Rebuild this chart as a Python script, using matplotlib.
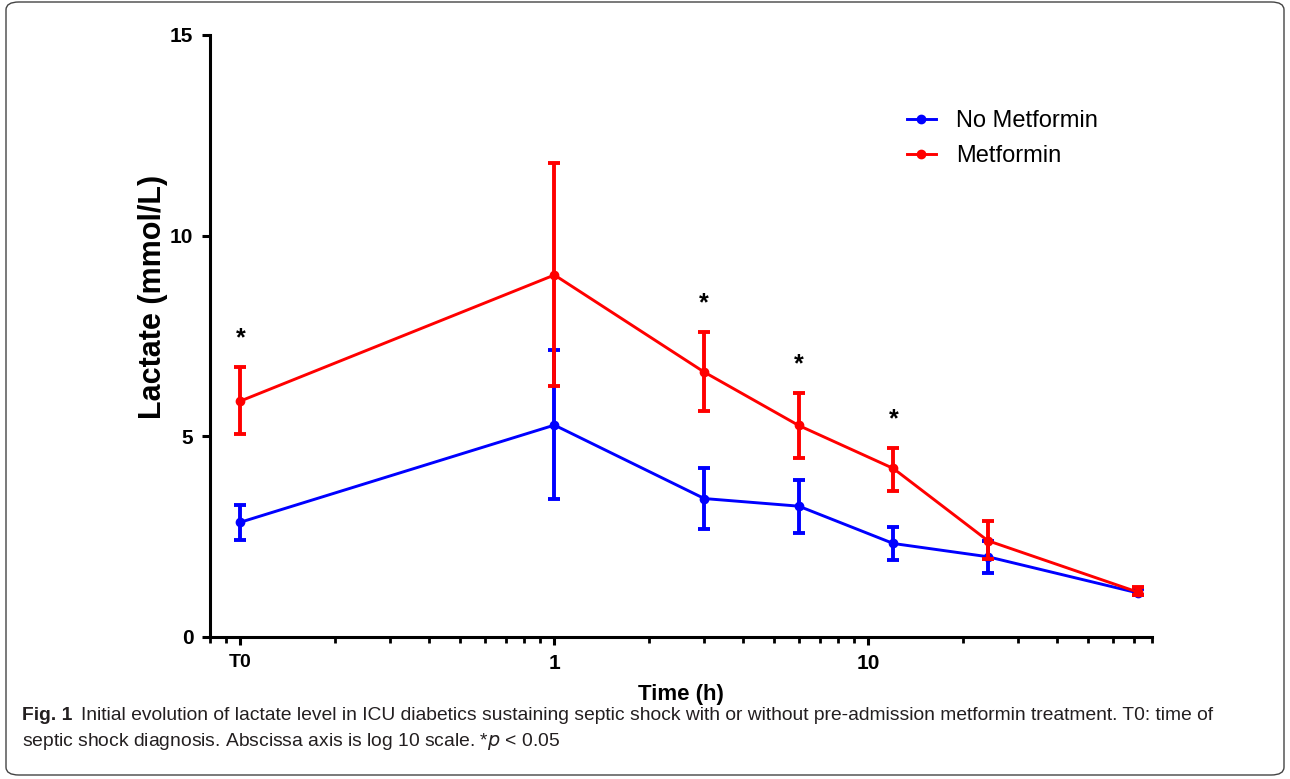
import matplotlib.pyplot as plt
from matplotlib.patches import FancyBboxPatch
from matplotlib.lines import Line2D
from matplotlib.ticker import FixedLocator, LogLocator, NullFormatter

# Time points (h); T0 drawn at 0.1 on the log axis
time = [0.1, 1, 3, 6, 12, 24, 72]
tick_pos = [0.1, 1, 10]
tick_lab = ['T0', '1', '10']

# No Metformin: mean, upper, lower
no_met = [2.86, 5.28, 3.45, 3.26, 2.33, 2.0, 1.1]
no_met_hi = [3.3, 7.15, 4.2, 3.92, 2.75, 2.4, 1.2]
no_met_lo = [2.42, 3.45, 2.7, 2.6, 1.92, 1.6, 1.05]

# Metformin: mean, upper, lower
met = [5.88, 9.02, 6.6, 5.27, 4.2, 2.4, 1.12]
met_hi = [6.72, 11.8, 7.6, 6.08, 4.72, 2.9, 1.25]
met_lo = [5.05, 6.25, 5.62, 4.45, 3.65, 1.95, 1.05]

# points marked as significant
star_idx = [0, 2, 3, 4]

BLUE = '#0000ff'
RED = '#ff0000'
FONT = 'Liberation Sans'

fig = plt.figure(figsize=(12.9, 7.79), dpi=100)
ax = fig.add_axes([210 / 1290, 1 - 637 / 779, (1152 - 210) / 1290, (637 - 35) / 779])

def err(m, hi, lo):
    return [[a - b for a, b in zip(m, lo)], [b - a for a, b in zip(m, hi)]]

ax.errorbar(time, no_met, yerr=err(no_met, no_met_hi, no_met_lo), color=BLUE,
            lw=2.1, marker='o', ms=6, elinewidth=2.8, capsize=4.2, capthick=2.8, zorder=3)
ax.errorbar(time, met, yerr=err(met, met_hi, met_lo), color=RED,
            lw=2.1, marker='o', ms=6, elinewidth=2.8, capsize=4.2, capthick=2.8, zorder=4)

for i in star_idx:
    ax.annotate('*', (time[i], met_hi[i]), xytext=(0, 12), textcoords='offset points',
                ha='center', va='bottom', fontsize=18, fontweight='bold', family=FONT)

ax.set_xscale('log')
ax.set_xlim(0.08, 80)
ax.set_ylim(0, 15)
ax.set_yticks([0, 5, 10, 15])
ax.xaxis.set_major_locator(FixedLocator(tick_pos))
ax.set_xticklabels(tick_lab)
ax.xaxis.set_minor_locator(LogLocator(base=10, subs=range(2, 10)))
ax.xaxis.set_minor_formatter(NullFormatter())

for s in ['top', 'right']:
    ax.spines[s].set_visible(False)
for s in ['left', 'bottom']:
    ax.spines[s].set_linewidth(2.2)
ax.tick_params(axis='both', which='major', length=6, width=2.2, direction='out', pad=6)
ax.tick_params(axis='x', which='minor', length=4, width=2)
for lab in ax.get_xticklabels() + ax.get_yticklabels():
    lab.set_fontfamily(FONT)
    lab.set_fontweight('bold')
    lab.set_fontsize(15)
ax.get_xticklabels()[0].set_fontsize(14)

ax.set_xlabel('Time (h)', fontsize=16, fontweight='bold', family=FONT, labelpad=8)
ax.set_ylabel('Lactate (mmol/L)', fontsize=22, fontweight='bold', family=FONT, labelpad=0)
ax.yaxis.set_label_coords(-0.045, 0.565)

handles = [Line2D([], [], color=BLUE, lw=2.1, marker='o', ms=6),
           Line2D([], [], color=RED, lw=2.1, marker='o', ms=6)]
ax.legend(handles, ['No Metformin', 'Metformin'], loc='center left',
          bbox_to_anchor=(0.717, 0.828), frameon=False,
          prop={'family': FONT, 'size': 17}, handlelength=1.25,
          handletextpad=0.85, labelspacing=0.55)

# caption
cap_color = '#231f20'
cap_size = 13.9
y1 = 1 - 715 / 779
y2 = 1 - 741 / 779
fig_lab = fig.text(22 / 1290, y1, 'Fig. 1', fontsize=cap_size, fontweight='bold',
                   va='center', family=FONT, color=cap_color)
r = fig.canvas.get_renderer()
bb = fig_lab.get_window_extent(r)
fig.text((bb.x1 + 9) / 1290, y1,
         'Initial evolution of lactate level in ICU diabetics sustaining septic shock with or without pre-admission metformin treatment. T0: time of',
         fontsize=cap_size, va='center', family=FONT, color=cap_color)
fig.text(22 / 1290, y2,
         'septic shock diagnosis. Abscissa axis is log 10 scale. *$p$ < 0.05',
         fontsize=cap_size, va='center', family=FONT, color=cap_color)

frame = FancyBboxPatch((6 / 1290, 4 / 779), 1278 / 1290, 773 / 779,
                       boxstyle='round,pad=0,rounding_size=0.01', transform=fig.transFigure,
                       fill=False, edgecolor='#444444', lw=1)
fig.patches.append(frame)

fig.savefig('out.png', dpi=100)
